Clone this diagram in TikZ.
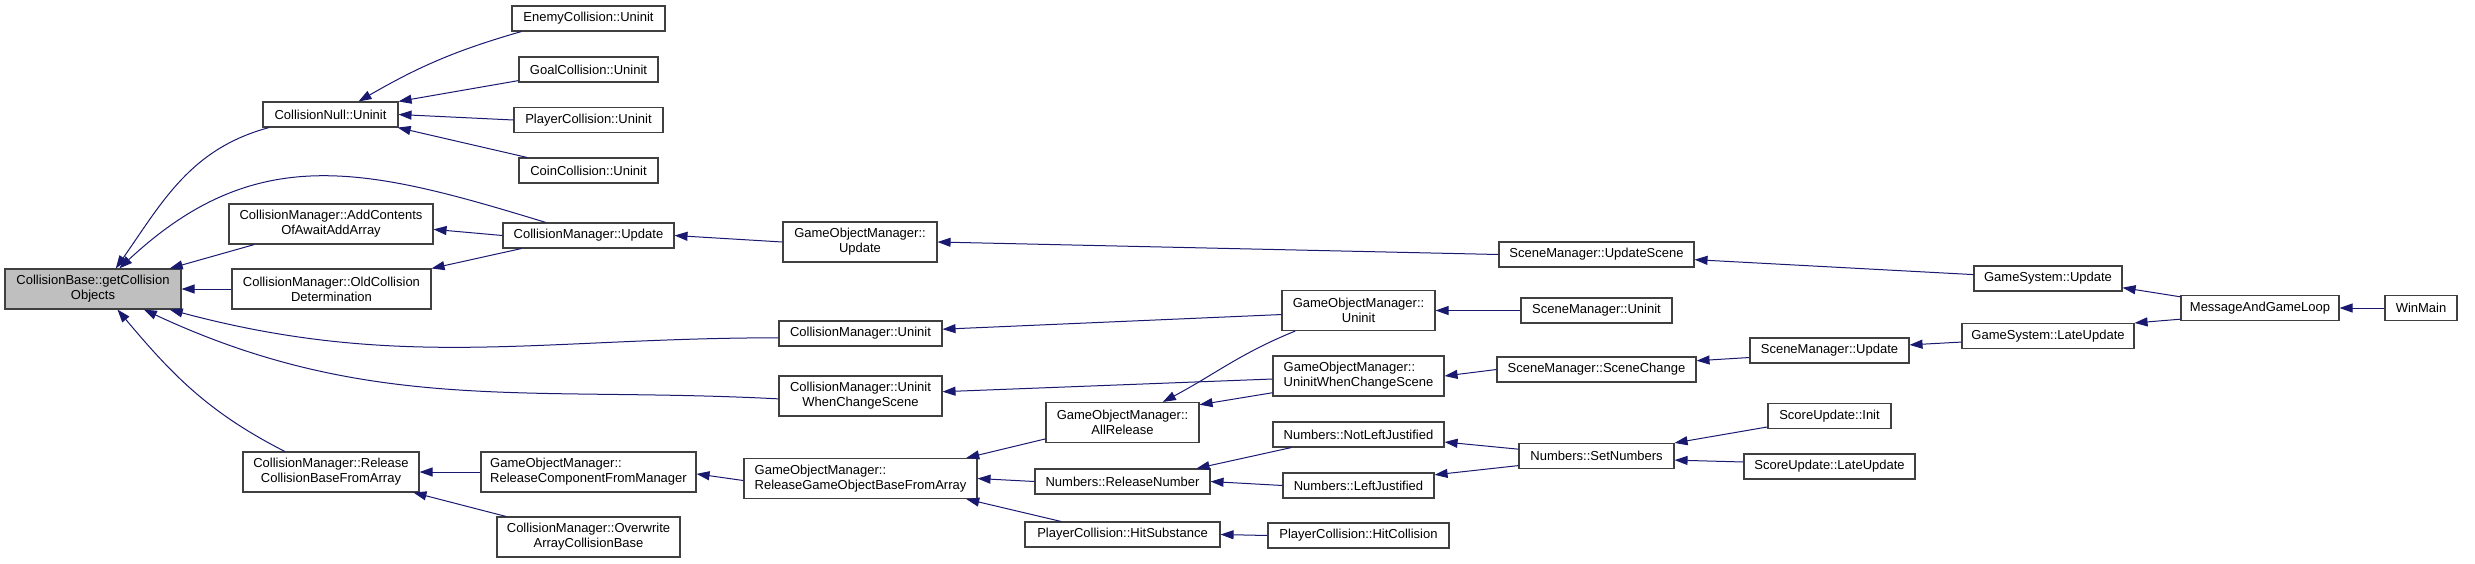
\documentclass[tikz,border=0pt]{standalone}
\usepackage{fontspec}
\setmainfont{Liberation Sans}
\usetikzlibrary{arrows.meta}
\definecolor{edgeblue}{HTML}{191970}
\definecolor{basegray}{HTML}{BFBFBF}
\begin{document}
\begin{tikzpicture}[x=1pt,y=1pt,>={Triangle[length=13pt,width=9pt]},
	fn/.style={draw=black!75,line width=1.1pt,fill=white,inner sep=0pt,minimum height=25pt,
		font=\fontsize{13}{15}\selectfont,align=center},
	fntwo/.style={fn,minimum height=40pt},
	call/.style={->,draw=edgeblue,line width=1pt}]
			\useasboundingbox (0,0) rectangle (2475,-563);
			% Column 1
			\node[fntwo,fill=basegray,minimum width=176pt] (base) at (93,-289) {CollisionBase::getCollision\\Objects};
			% Column 2
			\node[fn,minimum width=135pt] (cnull) at (330.5,-114.5) {CollisionNull::Uninit};
			\node[fntwo,minimum width=204pt] (addc) at (331,-224) {CollisionManager::AddContents\\OfAwaitAddArray};
			\node[fntwo,minimum width=199pt] (oldc) at (331.5,-289) {CollisionManager::OldCollision\\Determination};
			\node[fntwo,minimum width=176pt] (relcb) at (331,-472) {CollisionManager::Release\\CollisionBaseFromArray};
			% Column 3
			\node[fn,minimum width=153pt] (enemy) at (588.5,-18.5) {EnemyCollision::Uninit};
			\node[fn,minimum width=139pt] (goal) at (588.5,-69.5) {GoalCollision::Uninit};
			\node[fn,minimum width=149pt] (player) at (588.5,-120) {PlayerCollision::Uninit};
			\node[fn,minimum width=139pt] (coin) at (588.5,-170.5) {CoinCollision::Uninit};
			\node[fn,minimum width=171pt] (cmupd) at (588.5,-235.5) {CollisionManager::Update};
			\node[fntwo,align=left,minimum width=215pt] (rcfm) at (588.5,-472) {GameObjectManager::\\ReleaseComponentFromManager};
			\node[fntwo,minimum width=183pt] (overw) at (588.5,-537) {CollisionManager::Overwrite\\ArrayCollisionBase};
			% Column 4
			\node[fntwo,minimum width=154pt] (gomupd) at (860,-242) {GameObjectManager::\\Update};
			\node[fn,minimum width=163pt] (cmuninit) at (860.5,-333.5) {CollisionManager::Uninit};
			\node[fntwo,minimum width=163pt] (cmuwcs) at (860.5,-396) {CollisionManager::Uninit\\WhenChangeScene};
			\node[fntwo,align=left,minimum width=233pt] (rgob) at (860.5,-478.5) {GameObjectManager::\\ReleaseGameObjectBaseFromArray};
			% Column 5
			\node[fntwo,minimum width=153pt] (allrel) at (1122.5,-422.5) {GameObjectManager::\\AllRelease};
			\node[fn,minimum width=175pt] (relnum) at (1122.5,-481.5) {Numbers::ReleaseNumber};
			\node[fn,minimum width=195pt] (hitsub) at (1122.5,-534.5) {PlayerCollision::HitSubstance};
			% Column 6
			\node[fntwo,minimum width=153pt] (gomuninit) at (1358.5,-310.5) {GameObjectManager::\\Uninit};
			\node[fntwo,align=left,minimum width=171pt] (gomuwcs) at (1358.5,-376) {GameObjectManager::\\UninitWhenChangeScene};
			\node[fn,minimum width=171pt] (notleft) at (1358.5,-434.5) {Numbers::NotLeftJustified};
			\node[fn,minimum width=151pt] (leftj) at (1358.5,-485.5) {Numbers::LeftJustified};
			\node[fn,minimum width=181pt] (hitcol) at (1358.5,-535.5) {PlayerCollision::HitCollision};
			% Column 7
			\node[fn,minimum width=195pt] (upscene) at (1596.5,-254.5) {SceneManager::UpdateScene};
			\node[fn,minimum width=151pt] (smuninit) at (1596.5,-310.5) {SceneManager::Uninit};
			\node[fn,minimum width=199pt] (scenech) at (1596.5,-369.5) {SceneManager::SceneChange};
			\node[fn,minimum width=155pt] (setnum) at (1596.5,-456) {Numbers::SetNumbers};
			% Column 8
			\node[fn,minimum width=159pt] (smupd) at (1829.5,-350.5) {SceneManager::Update};
			\node[fn,minimum width=123pt] (scinit) at (1829.5,-416) {ScoreUpdate::Init};
			\node[fn,minimum width=171pt] (sclate) at (1829.5,-466.5) {ScoreUpdate::LateUpdate};
			% Column 9 and up
			\node[fn,minimum width=148pt] (gsupd) at (2048,-278.5) {GameSystem::Update};
			\node[fn,minimum width=172pt] (gslate) at (2048,-336) {GameSystem::LateUpdate};
			\node[fn,minimum width=158pt] (msgloop) at (2260,-308) {MessageAndGameLoop};
			\node[fn,minimum width=72pt] (winmain) at (2421,-308) {WinMain};
			
			% Calls into getCollisionObjects
			\draw[call] (cnull.192) to[out=195,in=55] (base.42);
			\draw[call] (cmupd.163) to[out=163,in=43,looseness=1.12] (base.38);
			\draw[call] (addc.195) -- (base.15);
			\draw[call] (oldc.west) -- (base.east);
			\draw[call] (cmuninit.183) to[out=180,in=-15] (base.-15);
			\draw[call] (cmuwcs.182) to[out=177,in=-25] (base.-22);
			\draw[call] (relcb.156) to[out=153,in=-50] (base.-40);
			% Collision uninit
			\draw[call] (enemy.191) to[out=196,in=30] (cnull.25);
			\draw[call] (goal.189) -- (cnull.north east);
			\draw[call] (player.west) -- (cnull.east);
			\draw[call] (coin.168) -- (cnull.-11);
			% Update chain
			\draw[call] (cmupd.west) -- (addc.-3);
			\draw[call] (cmupd.191) -- (oldc.north east);
			\draw[call] (gomupd.west) -- (cmupd.east);
			\draw[call] (upscene.west) -- (gomupd.east);
			\draw[call] (gsupd.177) -- (upscene.-3);
			\draw[call] (msgloop.172) -- (gsupd.-7);
			\draw[call] (msgloop.188) -- (gslate.north east);
			\draw[call] (winmain.west) -- (msgloop.east);
			% Uninit chain
			\draw[call] (gomuninit.183) -- (cmuninit.3);
			\draw[call] (smuninit.west) -- (gomuninit.east);
			\draw[call] (gomuwcs.182) -- (cmuwcs.3);
			\draw[call] (scenech.west) -- (gomuwcs.east);
			\draw[call] (smupd.185) -- (scenech.5);
			\draw[call] (gslate.184) -- (smupd.4);
			\draw[call] (gomuninit.198) to[out=202,in=28] (allrel.27);
			\draw[call] (gomuwcs.191) -- (allrel.13);
			% Release chain
			\draw[call] (allrel.192) -- (rgob.11);
			\draw[call] (relnum.west) -- (rgob.east);
			\draw[call] (hitsub.168) -- (rgob.-11);
			\draw[call] (hitcol.west) -- (hitsub.east);
			\draw[call] (notleft.191) -- (relnum.10);
			\draw[call] (leftj.west) -- (relnum.east);
			\draw[call] (setnum.175) -- (notleft.-5);
			\draw[call] (setnum.187) -- (leftj.8);
			\draw[call] (scinit.190) -- (setnum.north east);
			\draw[call] (sclate.177) -- (setnum.-3);
			\draw[call] (rgob.181) -- (rcfm.-1);
			\draw[call] (rcfm.west) -- (relcb.east);
			\draw[call] (overw.166) -- (relcb.-14);
			
		\end{tikzpicture}
\end{document}
